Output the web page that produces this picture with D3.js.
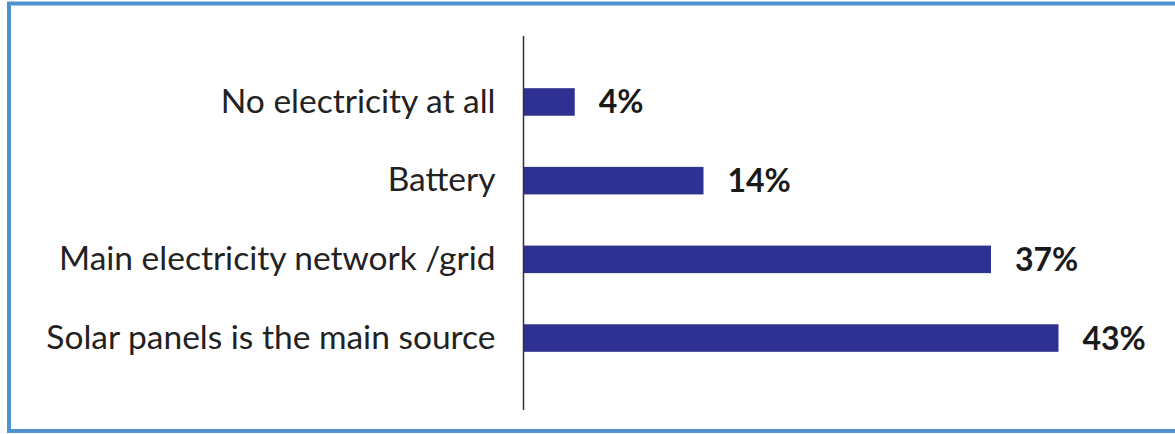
<!DOCTYPE html>
<html>
<head>
<meta charset="utf-8">
<script src="https://cdn.jsdelivr.net/npm/d3@7"></script>
<style>
  html, body { margin: 0; padding: 0; background: #fff; }
  svg { display: block; }
</style>
</head>
<body>
<svg id="chart" width="1175" height="434"></svg>
<script>
const categories = ["No electricity at all", "Battery", "Main electricity network /grid", "Solar panels is the main source"];
const values = [4.1, 14.4, 37.4, 42.8];
const valueLabels = ["4%", "14%", "37%", "43%"];

const svg = d3.select("#chart");
const W = 1175, H = 434;

// frame
svg.append("rect")
  .attr("x", 9).attr("y", 3.5)
  .attr("width", W + 20).attr("height", 427.5)
  .attr("fill", "none")
  .attr("stroke", "#4f90d0")
  .attr("stroke-width", 4);

const x0 = 523.5;
const x = d3.scaleLinear().domain([0, 10]).range([x0, x0 + 125]);
const y = d3.scaleBand().domain(categories).range([63, 377]).paddingInner(0.65).paddingOuter(0.32);

// bars
svg.append("g").selectAll("rect").data(values).join("rect")
  .attr("x", x(0))
  .attr("y", (d, i) => y(categories[i]))
  .attr("width", d => x(d) - x(0))
  .attr("height", y.bandwidth())
  .attr("fill", "#2e3192");

// axis
const yAxis = d3.axisLeft(y).tickSize(0).tickPadding(28);
const gAxis = svg.append("g").attr("transform", `translate(${x0},0)`).call(yAxis);
gAxis.select(".domain").remove();
gAxis.append("line")
  .attr("x1", 0).attr("x2", 0).attr("y1", 36).attr("y2", 410)
  .attr("stroke", "#333").attr("stroke-width", 1.5);
gAxis.selectAll(".tick text")
  .attr("fill", "#222")
  .style("font-family", "Lato, 'Open Sans', sans-serif")
  .style("font-size", "33.5px");

// value labels
svg.append("g").selectAll("text").data(values).join("text")
  .attr("x", d => x(d) + 24)
  .attr("y", (d, i) => y(categories[i]) + y.bandwidth() / 2)
  .attr("dy", "0.36em")
  .attr("fill", "#1a1a1a")
  .style("font-family", "Lato, 'Open Sans', sans-serif")
  .style("font-weight", "700")
  .style("font-size", "32px")
  .text((d, i) => valueLabels[i]);
</script>
</body>
</html>
